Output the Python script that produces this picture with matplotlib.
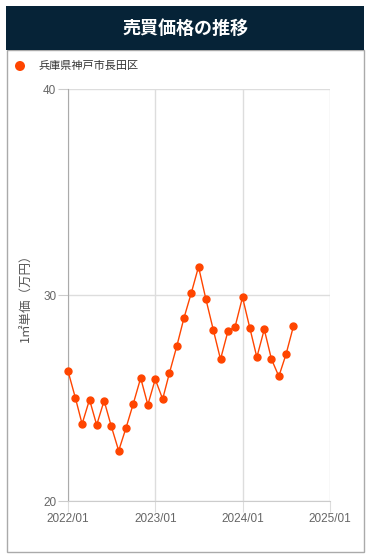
import matplotlib
matplotlib.use("Agg")
import matplotlib.pyplot as plt
from matplotlib.patches import Rectangle, Ellipse
import pandas as pd

plt.rcParams['font.family'] = ['Liberation Sans', 'Noto Sans CJK JP', 'DejaVu Sans']

title = "売買価格の推移"
series_name = "兵庫県神戸市長田区"
y_label = "1㎡単価（万円）"
months = pd.date_range("2022-01-01", "2024-08-01", freq="MS")
prices = [26.31, 25.00, 23.74, 24.92, 23.69, 24.87, 23.63, 22.44, 23.56, 24.72,
          25.97, 24.67, 25.91, 24.95, 26.20, 27.51, 28.88, 30.11, 31.37, 29.79,
          28.30, 26.88, 28.24, 28.46, 29.89, 28.38, 26.98, 28.33, 26.89, 26.05,
          27.12, 28.48]
x_ticks = pd.to_datetime(["2022-01-01", "2023-01-01", "2024-01-01", "2025-01-01"])
x_tick_labels = ["2022/01", "2023/01", "2024/01", "2025/01"]
y_ticks = [20, 30, 40]

W, H = 370, 558
fig = plt.figure(figsize=(W / 100, H / 100), dpi=100)

def fx(px):
    return px / W

def fy(py):
    return 1 - py / H

# panel and title bar
fig.patches.append(Rectangle((fx(6.5), fy(552)), fx(357), 502 / H, transform=fig.transFigure,
                             facecolor='white', edgecolor='#aaaaaa', linewidth=1.0, zorder=-2))
fig.patches.append(Rectangle((fx(6), fy(50)), fx(358), 44 / H, transform=fig.transFigure,
                             facecolor='#062337', edgecolor='none', zorder=-1))
fig.text(fx(185), fy(28), title, color='white', fontsize=13, fontweight='bold',
         ha='center', va='center', family=['Noto Sans CJK JP'])

# legend
fig.patches.append(Ellipse((fx(20), fy(66)), 10 / W, 10 / H, transform=fig.transFigure,
                           facecolor='#FF4500', edgecolor='none', zorder=2))
fig.text(fx(38), fy(66), series_name, color='#333333', fontsize=8,
         ha='left', va='center', family=['Noto Sans CJK JP'])

ax = fig.add_axes([fx(68), fy(501), fx(262), 412 / H])
ax.patch.set_alpha(0)
ax.plot(months, prices, color='#FF4500', linewidth=1.0, marker='o', markersize=5.0,
        markerfacecolor='#FF4500', markeredgecolor='#FF4500', zorder=3, clip_on=False)

ax.set_xlim(x_ticks[0], x_ticks[-1])
ax.set_ylim(20, 40)
ax.set_xticks(x_ticks)
ax.set_xticklabels(x_tick_labels)
ax.set_yticks(y_ticks)
ax.grid(True, color='#dddddd', linewidth=1.0)
ax.set_axisbelow(True)
for s in ['top', 'right']:
    ax.spines[s].set_visible(False)
ax.spines['left'].set_color('#aaaaaa')
ax.spines['bottom'].set_color('#cccccc')
ax.tick_params(axis='y', length=7.5, color='#cccccc', labelcolor='#666666', labelsize=8.5, pad=1)
ax.tick_params(axis='x', length=8, color='#dddddd', labelcolor='#666666', labelsize=8.5, pad=1)
ax.set_ylabel(y_label, fontsize=9, color='#555555', family=['Noto Sans CJK JP'])
ax.yaxis.set_label_coords(fx(33 - 68) / fx(262), 0.5)

fig.savefig("out.png", dpi=100)
